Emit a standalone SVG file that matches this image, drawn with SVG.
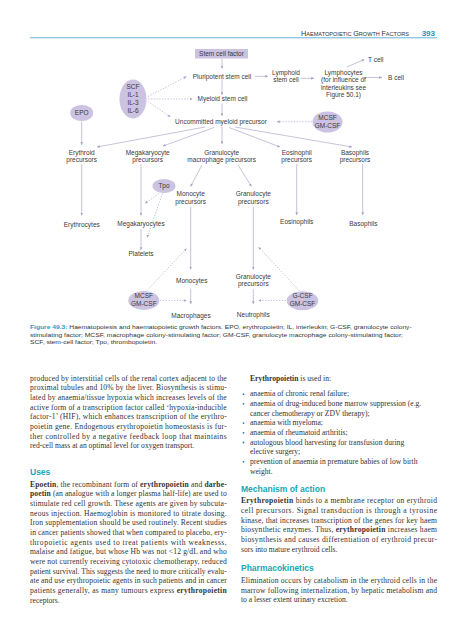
<svg xmlns="http://www.w3.org/2000/svg" width="467" height="640" viewBox="0 0 467 640">
<style>
.lbl{font-family:"Liberation Sans",Arial,sans-serif;font-size:6.5px;fill:#3a3a3a;text-anchor:middle}
.lbs{font-family:"Liberation Sans",Arial,sans-serif;font-size:6.5px;fill:#3a3a3a}
.ln{stroke:#b0a9ca;stroke-width:0.7;fill:none}
.ds{stroke:#b0a9ca;stroke-width:0.7;fill:none;stroke-dasharray:1.4 1.4}
.ell{fill:#cbc3e1}
.body{font-family:"Liberation Serif","Times New Roman",serif;font-size:7.6px;fill:#333}
.cap{font-family:"Liberation Sans",Arial,sans-serif;font-size:6.2px;fill:#333}
.hd{font-family:"Liberation Sans",Arial,sans-serif;font-size:8.5px;font-weight:bold;fill:#21a5b5}
.bul{fill:#2b7fa8}
</style>
<defs>
<marker id="ah" viewBox="0 0 6 6" refX="6" refY="3" markerWidth="2.8" markerHeight="2.8" orient="auto" markerUnits="userSpaceOnUse"><path d="M0,0 L6,3 L0,6 z" fill="#aaa3c6"/></marker>
</defs>

<g id="header">
<text x="301" y="35.6" font-family="'Liberation Sans',Arial,sans-serif" fill="#333" textLength="108" lengthAdjust="spacingAndGlyphs"><tspan font-size="7.4">H</tspan><tspan font-size="5.7">AEMATOPOIETIC </tspan><tspan font-size="7.4">G</tspan><tspan font-size="5.7">ROWTH </tspan><tspan font-size="7.4">F</tspan><tspan font-size="5.7">ACTORS</tspan></text>
<text x="435" y="35.8" text-anchor="end" font-family="'Liberation Sans',Arial,sans-serif" font-size="8" font-weight="bold" fill="#2a8fc0">393</text>
<line x1="30" y1="37.8" x2="437" y2="37.8" stroke="#58a9d2" stroke-width="0.9"/>
</g>

<g id="connectors">
<line class="ln" x1="222" y1="58.5" x2="222" y2="68.5" marker-end="url(#ah)"/>
<line class="ln" x1="222" y1="79.5" x2="222" y2="95" marker-end="url(#ah)"/>
<line class="ln" x1="222" y1="103.5" x2="222" y2="116" marker-end="url(#ah)"/>
<line class="ln" x1="254.5" y1="76.3" x2="268" y2="76.3" marker-end="url(#ah)"/>
<line class="ln" x1="300.5" y1="78.3" x2="314" y2="78.3" marker-end="url(#ah)"/>
<line class="ln" x1="362" y1="77.5" x2="382" y2="77.5" marker-end="url(#ah)"/>
<line class="ln" x1="347" y1="66.8" x2="364.5" y2="59.5" marker-end="url(#ah)"/>
<line class="ds" x1="148" y1="96.5" x2="186.5" y2="76.5" marker-end="url(#ah)"/>
<line class="ds" x1="148" y1="99" x2="192.5" y2="99" marker-end="url(#ah)"/>
<line class="ds" x1="148" y1="101.5" x2="170.5" y2="117" marker-end="url(#ah)"/>
<line class="ds" x1="312" y1="121.7" x2="277" y2="121.7" marker-end="url(#ah)"/>
<line class="ln" x1="81.7" y1="121.5" x2="81.7" y2="145" marker-end="url(#ah)"/>
<line class="ln" x1="205" y1="127" x2="97" y2="147" marker-end="url(#ah)"/>
<line class="ln" x1="214" y1="127.5" x2="163" y2="146" marker-end="url(#ah)"/>
<line class="ln" x1="222" y1="126.5" x2="222" y2="144" marker-end="url(#ah)"/>
<line class="ln" x1="229" y1="127.5" x2="280" y2="147" marker-end="url(#ah)"/>
<line class="ln" x1="235" y1="127" x2="352" y2="147" marker-end="url(#ah)"/>
<line class="ln" x1="81.7" y1="164" x2="81.7" y2="215.5" marker-end="url(#ah)"/>
<line class="ln" x1="141" y1="164" x2="141" y2="215.5" marker-end="url(#ah)"/>
<line class="ln" x1="141" y1="229" x2="141" y2="250" marker-end="url(#ah)"/>
<line class="ds" x1="159" y1="193.5" x2="145" y2="203.5" marker-end="url(#ah)"/>
<line class="ds" x1="162.5" y1="193.5" x2="147" y2="237.5" marker-end="url(#ah)"/>
<line class="ln" x1="202" y1="165" x2="190.5" y2="186.5" marker-end="url(#ah)"/>
<line class="ln" x1="238" y1="165" x2="251.5" y2="186.5" marker-end="url(#ah)"/>
<line class="ln" x1="296.7" y1="164" x2="296.7" y2="215" marker-end="url(#ah)"/>
<line class="ln" x1="362.7" y1="164" x2="362.7" y2="215" marker-end="url(#ah)"/>
<line class="ln" x1="190.7" y1="207" x2="190.7" y2="269.5" marker-end="url(#ah)"/>
<line class="ln" x1="190.7" y1="288.5" x2="190.7" y2="304" marker-end="url(#ah)"/>
<line class="ln" x1="253.3" y1="207" x2="253.3" y2="269.5" marker-end="url(#ah)"/>
<line class="ln" x1="253.3" y1="289" x2="253.3" y2="304" marker-end="url(#ah)"/>
<line class="ds" x1="160" y1="300.5" x2="186.5" y2="300.5" marker-end="url(#ah)"/>
<line class="ds" x1="147" y1="290.5" x2="186.5" y2="248.5" marker-end="url(#ah)"/>
<line class="ds" x1="286" y1="300.5" x2="258.5" y2="300.5" marker-end="url(#ah)"/>
<line class="ds" x1="299" y1="290.5" x2="258.5" y2="247" marker-end="url(#ah)"/>
</g>

<g id="stem-cell-factor"><rect x="195" y="49" width="53" height="9.5" class="ell"/><text class="lbl" x="221.5" y="56">Stem cell factor</text></g>
<g id="pluripotent"><text class="lbl" x="222" y="78.5">Pluripotent stem cell</text></g>
<g id="myeloid"><text class="lbl" x="222.5" y="101.2">Myeloid stem cell</text></g>
<g id="uncommitted"><text class="lbl" x="221" y="124">Uncommitted myeloid precursor</text></g>
<g id="lymphoid"><text class="lbl" x="286" y="75">Lymphoid</text><text class="lbl" x="286" y="82.3">stem cell</text></g>
<g id="lymphocytes"><text class="lbl" x="343.5" y="75">Lymphocytes</text><text class="lbl" x="343.5" y="82.3">(for influence of</text><text class="lbl" x="343.5" y="89.6">interleukins see</text><text class="lbl" x="343.5" y="96.9">Figure 50.1)</text></g>
<g id="tcell"><text class="lbs" x="368" y="61.6">T cell</text></g>
<g id="bcell"><text class="lbs" x="388" y="79.6">B cell</text></g>
<g id="scf"><ellipse class="ell" cx="133" cy="99" rx="13.5" ry="19.5"/><text class="lbl" x="133" y="88.5">SCF</text><text class="lbl" x="133" y="96.8">IL-1</text><text class="lbl" x="133" y="105.1">IL-3</text><text class="lbl" x="133" y="113.4">IL-6</text></g>
<g id="epo"><ellipse class="ell" cx="81.7" cy="113" rx="11.5" ry="8"/><text class="lbl" x="81.7" y="115.3">EPO</text></g>
<g id="mcsf-top"><ellipse class="ell" cx="327.5" cy="122" rx="15" ry="10.5"/><text class="lbl" x="327.5" y="120">MCSF</text><text class="lbl" x="327.5" y="128">GM-CSF</text></g>
<g id="erythroid-prec"><text class="lbl" x="81.7" y="154.6">Erythroid</text><text class="lbl" x="81.7" y="162.3">precursors</text></g>
<g id="megak-prec"><text class="lbl" x="147.7" y="154.6">Megakaryocyte</text><text class="lbl" x="147.7" y="162.3">precursors</text></g>
<g id="gm-prec"><text class="lbl" x="221.7" y="154.6">Granulocyte</text><text class="lbl" x="221.7" y="162.3">macrophage precursors</text></g>
<g id="eos-prec"><text class="lbl" x="296.7" y="154.6">Eosinophil</text><text class="lbl" x="296.7" y="162.3">precursors</text></g>
<g id="baso-prec"><text class="lbl" x="355" y="154.6">Basophils</text><text class="lbl" x="355" y="162.3">precursors</text></g>
<g id="tpo"><ellipse class="ell" cx="164" cy="186" rx="11.5" ry="7"/><text class="lbl" x="164" y="188.3">Tpo</text></g>
<g id="mono-prec"><text class="lbl" x="190.7" y="196.3">Monocyte</text><text class="lbl" x="190.7" y="204">precursors</text></g>
<g id="gran-prec"><text class="lbl" x="253.3" y="196.3">Granulocyte</text><text class="lbl" x="253.3" y="204">precursors</text></g>
<g id="erythrocytes"><text class="lbl" x="81.7" y="226.6">Erythrocytes</text></g>
<g id="megakaryocytes"><text class="lbl" x="141" y="226.3">Megakaryocytes</text></g>
<g id="eosinophils"><text class="lbl" x="296.7" y="224.4">Eosinophils</text></g>
<g id="basophils"><text class="lbl" x="363.3" y="225.6">Basophils</text></g>
<g id="platelets"><text class="lbl" x="141" y="255.6">Platelets</text></g>
<g id="monocytes"><text class="lbl" x="191.7" y="282.6">Monocytes</text></g>
<g id="gran-prec2"><text class="lbl" x="253.3" y="278.6">Granulocyte</text><text class="lbl" x="253.3" y="286.3">precursors</text></g>
<g id="macrophages"><text class="lbl" x="191" y="317.6">Macrophages</text></g>
<g id="neutrophils"><text class="lbl" x="253.3" y="316.6">Neutrophils</text></g>
<g id="mcsf-low"><ellipse class="ell" cx="143.8" cy="300.5" rx="15.5" ry="9.5"/><text class="lbl" x="143.8" y="298.3">MCSF</text><text class="lbl" x="143.8" y="306.1">GM-CSF</text></g>
<g id="gcsf"><ellipse class="ell" cx="302.5" cy="300.8" rx="15.8" ry="9.5"/><text class="lbl" x="302.5" y="298.4">G-CSF</text><text class="lbl" x="302.5" y="306.2">GM-CSF</text></g>

<g id="caption">
<text class="cap" x="30" y="329" textLength="381.7" lengthAdjust="spacingAndGlyphs"><tspan font-weight="bold" fill="#1e9bc6">Figure 49.3:</tspan> Haematopoiesis and haematopoietic growth factors. EPO, erythropoietin; IL, interleukin; G-CSF, granulocyte colony-</text>
<text class="cap" x="30" y="336.7" textLength="373" lengthAdjust="spacingAndGlyphs">stimulating factor; MCSF, macrophage colony-stimulating factor; GM-CSF, granulocyte macrophage colony-stimulating factor;</text>
<text class="cap" x="30" y="344.4" textLength="127" lengthAdjust="spacingAndGlyphs">SCF, stem-cell factor; Tpo, thrombopoietin.</text>
</g>

<g id="left-column">
<text class="body" x="30" y="380.6" textLength="196.7" lengthAdjust="spacing">produced by interstitial cells of the renal cortex adjacent to the</text>
<text class="body" x="30" y="390.3" textLength="196.7" lengthAdjust="spacing">proximal tubules and 10% by the liver. Biosynthesis is stimu-</text>
<text class="body" x="30" y="399.9" textLength="196.7" lengthAdjust="spacing">lated by anaemia/tissue hypoxia which increases levels of the</text>
<text class="body" x="30" y="409.6" textLength="196.7" lengthAdjust="spacing">active form of a transcription factor called ‘hypoxia-inducible</text>
<text class="body" x="30" y="419.3" textLength="196.7" lengthAdjust="spacing">factor-1’ (HIF), which enhances transcription of the erythro-</text>
<text class="body" x="30" y="428.9" textLength="196.7" lengthAdjust="spacing">poietin gene. Endogenous erythropoietin homeostasis is fur-</text>
<text class="body" x="30" y="438.6" textLength="196.7" lengthAdjust="spacing">ther controlled by a negative feedback loop that maintains</text>
<text class="body" x="30" y="448.3">red-cell mass at an optimal level for oxygen transport.</text>
<text class="hd" x="30" y="474.8">Uses</text>
<text class="body" x="30" y="486.6" textLength="196.7" lengthAdjust="spacing"><tspan font-weight="bold">Epoetin</tspan>, the recombinant form of <tspan font-weight="bold">erythropoietin</tspan> and <tspan font-weight="bold">darbe-</tspan></text>
<text class="body" x="30" y="496.3" textLength="196.7" lengthAdjust="spacing"><tspan font-weight="bold">poetin</tspan> (an analogue with a longer plasma half-life) are used to</text>
<text class="body" x="30" y="505.9" textLength="196.7" lengthAdjust="spacing">stimulate red cell growth. These agents are given by subcuta-</text>
<text class="body" x="30" y="515.6" textLength="196.7" lengthAdjust="spacing">neous injection. Haemoglobin is monitored to titrate dosing.</text>
<text class="body" x="30" y="525.3" textLength="196.7" lengthAdjust="spacing">Iron supplementation should be used routinely. Recent studies</text>
<text class="body" x="30" y="535" textLength="196.7" lengthAdjust="spacing">in cancer patients showed that when compared to placebo, ery-</text>
<text class="body" x="30" y="544.6" textLength="196.7" lengthAdjust="spacing">thropoietic agents used to treat patients with weaknesss,</text>
<text class="body" x="30" y="554.3" textLength="196.7" lengthAdjust="spacing">malaise and fatigue, but whose Hb was not &lt;12 g/dL and who</text>
<text class="body" x="30" y="564" textLength="196.7" lengthAdjust="spacing">were not currently receiving cytotoxic chemotherapy, reduced</text>
<text class="body" x="30" y="573.6" textLength="196.7" lengthAdjust="spacing">patient survival. This suggests the need to more critically evalu-</text>
<text class="body" x="30" y="583.3" textLength="196.7" lengthAdjust="spacing">ate and use erythropoietic agents in such patients and in cancer</text>
<text class="body" x="30" y="593" textLength="196.7" lengthAdjust="spacing">patients generally, as many tumours express <tspan font-weight="bold">erythropoietin</tspan></text>
<text class="body" x="30" y="602.6">receptors.</text>
</g>

<g id="right-column">
<text class="body" x="250" y="380.6"><tspan font-weight="bold">Erythropoietin</tspan> is used in:</text>
<g class="bul"><circle cx="243.5" cy="394.2" r="0.9"/><circle cx="243.5" cy="403.8" r="0.9"/><circle cx="243.5" cy="423.1" r="0.9"/><circle cx="243.5" cy="432.8" r="0.9"/><circle cx="243.5" cy="442.5" r="0.9"/><circle cx="243.5" cy="461.8" r="0.9"/></g>
<text class="body" x="250" y="396.3">anaemia of chronic renal failure;</text>
<text class="body" x="250" y="405.9">anaemia of drug-induced bone marrow suppression (e.g.</text>
<text class="body" x="250" y="415.6">cancer chemotherapy or ZDV therapy);</text>
<text class="body" x="250" y="425.2">anaemia with myeloma;</text>
<text class="body" x="250" y="434.9">anaemia of rheumatoid arthritis;</text>
<text class="body" x="250" y="444.6">autologous blood harvesting for transfusion during</text>
<text class="body" x="250" y="454.2">elective surgery;</text>
<text class="body" x="250" y="463.9">prevention of anaemia in premature babies of low birth</text>
<text class="body" x="250" y="473.6">weight.</text>
<text class="hd" x="241" y="492">Mechanism of action</text>
<text class="body" x="241" y="503.3" textLength="196" lengthAdjust="spacing"><tspan font-weight="bold">Erythropoietin</tspan> binds to a membrane receptor on erythroid</text>
<text class="body" x="241" y="513" textLength="196" lengthAdjust="spacing">cell precursors. Signal transduction is through a tyrosine</text>
<text class="body" x="241" y="522.6" textLength="196" lengthAdjust="spacing">kinase, that increases transcription of the genes for key haem</text>
<text class="body" x="241" y="532.3" textLength="196" lengthAdjust="spacing">biosynthetic enzymes. Thus, <tspan font-weight="bold">erythropoietin</tspan> increases haem</text>
<text class="body" x="241" y="542" textLength="196" lengthAdjust="spacing">biosynthesis and causes differentiation of erythroid precur-</text>
<text class="body" x="241" y="551.6">sors into mature erythroid cells.</text>
<text class="hd" x="241" y="571.3">Pharmacokinetics</text>
<text class="body" x="241" y="583" textLength="196" lengthAdjust="spacing">Elimination occurs by catabolism in the erythroid cells in the</text>
<text class="body" x="241" y="592.7" textLength="196" lengthAdjust="spacing">marrow following internalization, by hepatic metabolism and</text>
<text class="body" x="241" y="602.3">to a lesser extent urinary excretion.</text>
</g>
</svg>
